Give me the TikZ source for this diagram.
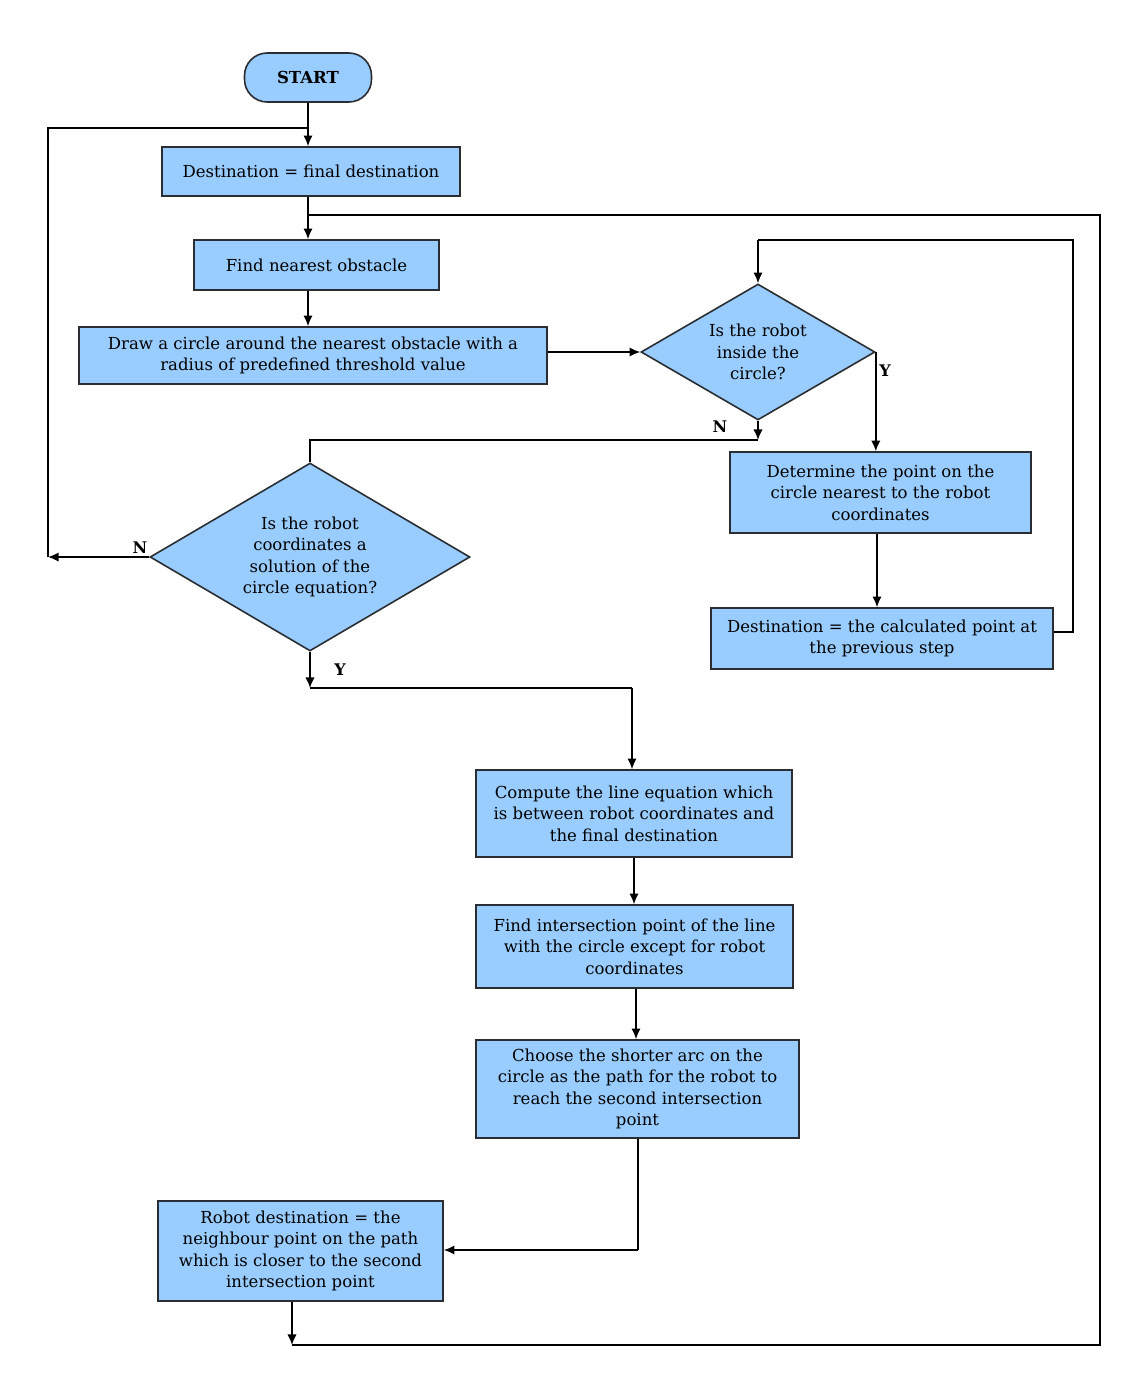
\documentclass[tikz,border=0pt]{standalone}
\usepackage{fontspec}
\setmainfont{DejaVu Serif}
\usetikzlibrary{arrows.meta,shapes.geometric}
\definecolor{boxfill}{HTML}{99CCFF}
\definecolor{boxline}{HTML}{2A2E33}
\begin{document}
\begin{tikzpicture}[x=0.75pt,y=-0.75pt,
  every node/.style={font=\fontsize{12.4pt}{16.2pt}\selectfont},
  box/.style={draw=boxline,fill=boxfill,line width=1.2pt,align=center,inner sep=2pt},
  term/.style={box,rounded corners=17pt},
  dia/.style={draw=boxline,fill=boxfill,line width=1.2pt,shape=diamond,inner sep=0pt},
  txt/.style={align=center,inner sep=0pt},
  lab/.style={font=\fontsize{12pt}{14pt}\selectfont\bfseries,inner sep=0pt},
  conn/.style={line width=1.1pt,draw=black},
  arr/.style={conn,-{Latex[length=8pt,width=7pt]}}]
\useasboundingbox (0,0) rectangle (1133,1379);

% nodes
\node[term,minimum width={127*0.75pt},minimum height={49*0.75pt}] (start) at (308,77.5) {\bfseries START};
\node[box,minimum width={298*0.75pt},minimum height={49*0.75pt}] (b1) at (311,171.5) {Destination = final destination};
\node[box,minimum width={245*0.75pt},minimum height={50*0.75pt}] (b2) at (316.5,265) {Find nearest obstacle};
\node[box,minimum width={468*0.75pt},minimum height={57*0.75pt}] (b3) at (313,355.5) {Draw a circle around the nearest obstacle with a\\radius of predefined threshold value};
\node[dia,minimum width={234*0.75pt},minimum height={136*0.75pt}] (d1) at (758,352) {};
\node[txt] (t1) at (d1.center) {Is the robot\\inside the\\circle?};
\node[box,minimum width={301*0.75pt},minimum height={81*0.75pt}] (b4) at (880.5,492.5) {Determine the point on the\\circle nearest to the robot\\coordinates};
\node[box,minimum width={342*0.75pt},minimum height={61*0.75pt}] (b5) at (882,638.5) {Destination = the calculated point at\\the previous step};
\node[dia,minimum width={320*0.75pt},minimum height={188*0.75pt}] (d2) at (310,557) {};
\node[txt] (t2) at (d2.center) {Is the robot\\coordinates a\\solution of the\\circle equation?};
\node[box,minimum width={316*0.75pt},minimum height={87*0.75pt}] (b6) at (634,813.5) {Compute the line equation which\\is between robot coordinates and\\the final destination};
\node[box,minimum width={317*0.75pt},minimum height={83*0.75pt}] (b7) at (634.5,946.5) {Find intersection point of the line\\with the circle except for robot\\coordinates};
\node[box,minimum width={323*0.75pt},minimum height={98*0.75pt}] (b8) at (637.5,1089) {Choose the shorter arc on the\\circle as the path for the robot to\\reach the second intersection\\point};
\node[box,minimum width={285*0.75pt},minimum height={100*0.75pt}] (b9) at (300.5,1251) {Robot destination = the\\neighbour point on the path\\which is closer to the second\\intersection point};

% labels
\node[lab] (ly1) at (885,371) {Y};
\node[lab] (ln1) at (720,427) {N};
\node[lab] (ln2) at (140,548) {N};
\node[lab] (ly2) at (340,670) {Y};

% free-end coordinates
\coordinate (tj) at (308,128);
\coordinate (tl) at (48,128);
\coordinate (nl) at (48,557);
\coordinate (rj) at (308,215);
\coordinate (rt) at (1100,215);
\coordinate (rb) at (1100,1345);
\coordinate (bl) at (292,1345);
\coordinate (lr) at (1073,632);
\coordinate (lt) at (1073,240);
\coordinate (lm) at (758,240);
\coordinate (n1) at (758,440);
\coordinate (n2) at (310,440);
\coordinate (y1) at (310,688);
\coordinate (y2) at (632,688);
\coordinate (k1) at (638,1250);

% connectors
\draw[arr] (start.south -| tj) -- (tj |- b1.north);
\draw[conn] (nl) -- (tl) -- (tj);
\draw[arr] (d2.west) -- (nl);
\draw[arr] (b1.south -| rj) -- (rj |- b2.north);
\draw[conn] (bl) -- (rb) -- (rt) -- (rj);
\draw[arr] (b9.south -| bl) -- (bl);
\draw[arr] (b2.south -| rj) -- (rj |- b3.north);
\draw[arr] (b3.east |- d1.west) -- (d1.west);
\draw[arr] (d1.east) -- (d1.east |- b4.north);
\draw[arr] (d1.south) -- (n1);
\draw[conn] (n1) -- (n2) -- (d2.north);
\draw[arr] (b4.south -| 877,0) -- (877,0 |- b5.north);
\draw[conn] (b5.east |- lr) -- (lr) -- (lt) -- (lm);
\draw[arr] (lm) -- (d1.north);
\draw[arr] (d2.south) -- (y1);
\draw[conn] (y1) -- (y2);
\draw[arr] (y2) -- (y2 |- b6.north);
\draw[arr] (b6.south) -- (b6.south |- b7.north);
\draw[arr] (b7.south -| 636,0) -- (636,0 |- b8.north);
\draw[conn] (b8.south -| k1) -- (k1);
\draw[arr] (k1) -- (k1 -| b9.east);
\end{tikzpicture}
\end{document}
